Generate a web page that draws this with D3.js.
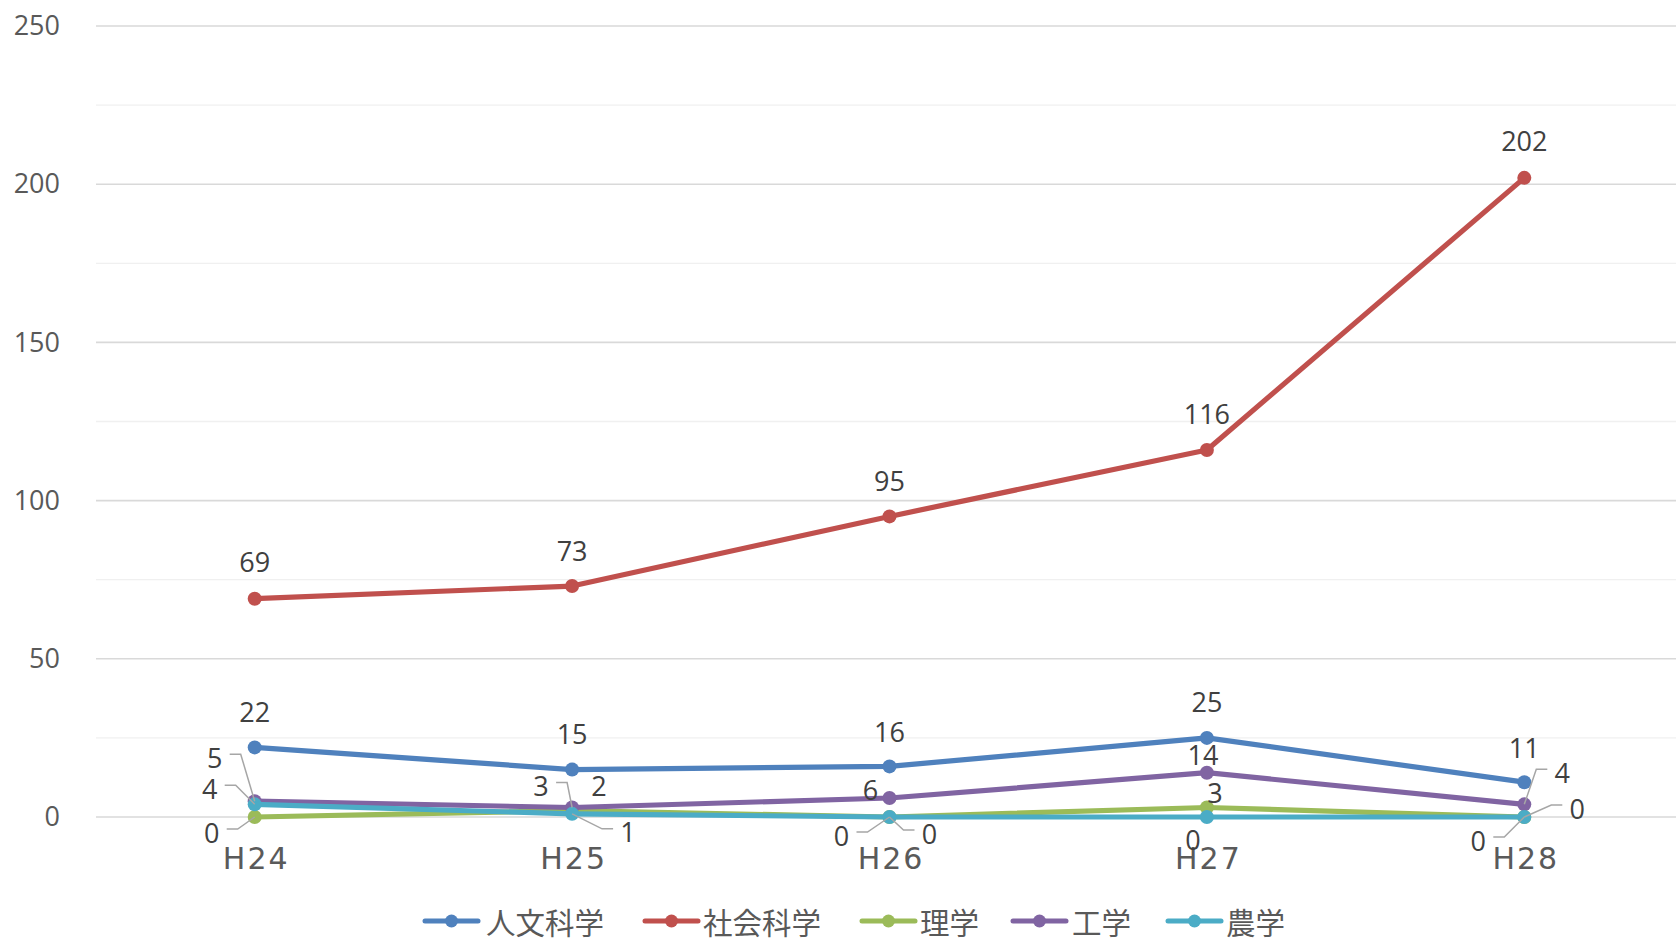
<!DOCTYPE html>
<html>
<head>
<meta charset="utf-8">
<script src="https://cdn.jsdelivr.net/npm/d3@7"></script>
<style>
  body { margin: 0; background: #ffffff; }
  svg { display: block; }
</style>
</head>
<body>
<svg id="chart" width="1676" height="938"></svg>
<script>
// ---- data ----
const categories = ["H24", "H25", "H26", "H27", "H28"];
const seriesNames = ["人文科学", "社会科学", "理学", "工学", "農学"];
const humanities = [22, 15, 16, 25, 11];
const socialSciences = [69, 73, 95, 116, 202];
const science = [0, 2, 0, 3, 0];
const engineering = [5, 3, 6, 14, 4];
const agriculture = [4, 1, 0, 0, 0];
const yTicks = [0, 50, 100, 150, 200, 250];
const yMinorTicks = [25, 75, 125, 175, 225];

// ---- styling / layout ----
const colors = ["#4F81BD", "#C0504D", "#9BBB59", "#8064A2", "#4BACC6"];
const seriesValues = [humanities, socialSciences, science, engineering, agriculture];

// label offsets from each point: [dx, dy, hasLeader]
const labelPlacement = [
  [[0, -36], [0, -36], [0, -35], [0, -36], [0, -35]],
  [[0, -37], [0, -36], [0, -36], [0, -36], [0, -37]],
  [[-43, 15, true], [27, -25], [-48, 18, true], [8, -15], [-46, 23, true]],
  [[-40, -44, true], [-31, -22, true], [-19, -9], [-4, -18], [38, -32, true]],
  [[-45, -16, true], [56, 18, true], [40, 16, true], [-14, 22], [53, -9, true]]
];

const svg = d3.select("#chart");
const W = 1676;

const x = d3.scalePoint().domain(categories).range([96, 1683]).padding(0.5);
const y = d3.scaleLinear().domain([0, 250]).range([817, 26]);

// gridlines
const grid = svg.append("g");
grid.selectAll("line.minor").data(yMinorTicks).join("line")
  .attr("x1", 96).attr("x2", W)
  .attr("y1", d => y(d)).attr("y2", d => y(d))
  .attr("stroke", "#f0f0f0").attr("stroke-width", 1.3);
grid.selectAll("line.major").data(yTicks).join("line")
  .attr("x1", 96).attr("x2", W)
  .attr("y1", d => y(d)).attr("y2", d => y(d))
  .attr("stroke", "#d9d9d9").attr("stroke-width", 1.6);

// y axis labels
const yAxis = svg.append("g")
  .attr("transform", "translate(60,0)")
  .call(d3.axisLeft(y).tickValues(yTicks).tickSize(0).tickPadding(0));
yAxis.select(".domain").remove();
yAxis.selectAll("text")
  .attr("fill", "#595959")
  .style("font-family", "'Open Sans', 'Noto Sans', sans-serif")
  .style("font-size", "27px");

// x axis labels
const xAxis = svg.append("g")
  .attr("transform", "translate(0,848)")
  .call(d3.axisBottom(x).tickSize(0).tickPadding(0));
xAxis.select(".domain").remove();
xAxis.selectAll("text")
  .attr("fill", "#5a5a5a")
  .attr("dy", "0.71em")
  .attr("dx", 1)
  .style("font-family", "'DejaVu Sans', sans-serif")
  .style("font-size", "30px")
  .style("letter-spacing", "2px");

// lines and markers
const line = d3.line().x((d, i) => x(categories[i])).y(d => y(d));
const plot = svg.append("g");
seriesValues.forEach((vals, s) => {
  const g = plot.append("g");
  g.append("path").datum(vals)
    .attr("d", line)
    .attr("fill", "none")
    .attr("stroke", colors[s])
    .attr("stroke-width", 5.2)
    .attr("stroke-linejoin", "round")
    .attr("stroke-linecap", "round");
  g.selectAll("circle").data(vals).join("circle")
    .attr("cx", (d, i) => x(categories[i]))
    .attr("cy", d => y(d))
    .attr("r", 7)
    .attr("fill", colors[s]);
});

// data labels with leader lines
const labels = svg.append("g");
seriesValues.forEach((vals, s) => {
  vals.forEach((v, i) => {
    const px = x(categories[i]), py = y(v);
    const [dx, dy, leader] = labelPlacement[s][i];
    const lx = px + dx, ly = py + dy;
    if (leader) {
      const dir = dx < 0 ? 1 : -1;
      const sx = lx + dir * 15, ey = ly - 3;
      const ex = sx + dir * 11;
      labels.append("path")
        .attr("d", `M${sx},${ey}L${ex},${ey}L${px},${py}`)
        .attr("fill", "none")
        .attr("stroke", "#A6A6A6")
        .attr("stroke-width", 1.5);
    }
    labels.append("text")
      .attr("x", lx).attr("y", ly)
      .attr("text-anchor", "middle")
      .attr("dominant-baseline", "central")
      .attr("fill", "#404040")
      .style("font-family", "'Open Sans', 'Noto Sans', sans-serif")
      .style("font-size", "27px")
      .text(v);
  });
});

// legend
const legendItems = [
  { lx: 425, tx: 486 },
  { lx: 645, tx: 703 },
  { lx: 862, tx: 920 },
  { lx: 1013, tx: 1072 },
  { lx: 1168, tx: 1226 }
];
const legend = svg.append("g").attr("transform", "translate(0,921)");
seriesNames.forEach((name, s) => {
  const it = legendItems[s];
  legend.append("line")
    .attr("x1", it.lx).attr("x2", it.lx + 53)
    .attr("y1", 0).attr("y2", 0)
    .attr("stroke", colors[s]).attr("stroke-width", 5)
    .attr("stroke-linecap", "round");
  legend.append("circle")
    .attr("cx", it.lx + 26.5).attr("cy", 0).attr("r", 6.5)
    .attr("fill", colors[s]);
  legend.append("text")
    .attr("x", it.tx).attr("y", 0)
    .attr("dominant-baseline", "central")
    .attr("fill", "#595959")
    .style("font-family", "'Noto Sans CJK JP', sans-serif")
    .style("font-size", "29.5px")
    .text(name);
});
</script>
</body>
</html>
